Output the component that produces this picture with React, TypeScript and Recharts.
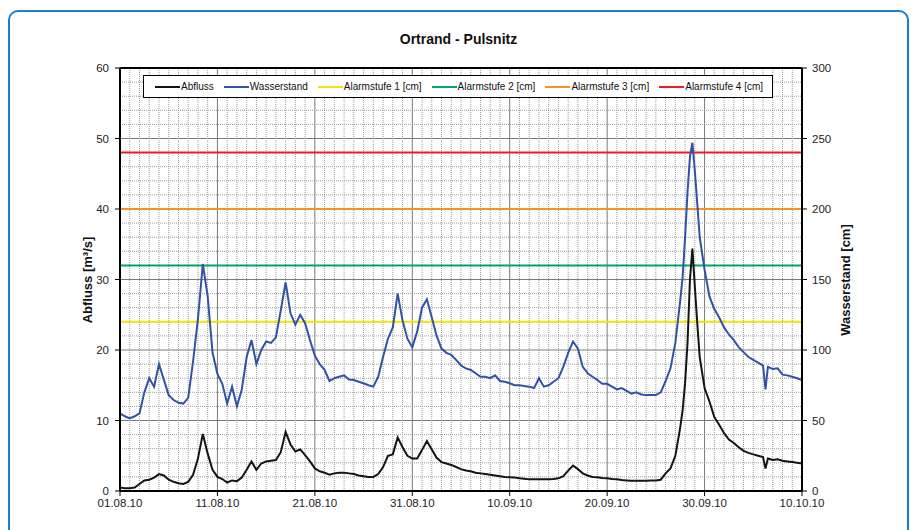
import React from 'react';
import {
  LineChart,
  Line,
  XAxis,
  YAxis,
  CartesianGrid,
  ReferenceLine,
} from 'recharts';

// Tage seit 01.08.10 (Messzeitpunkte)
const days = [
  0, 0.5, 1, 1.5, 2, 2.5, 3, 3.5, 4, 4.5, 5, 5.5, 6, 6.5, 7, 7.5, 8, 8.5, 9, 9.5,
  10, 10.5, 11, 11.5, 12, 12.5, 13, 13.5, 14, 14.5, 15, 15.5, 16, 16.5, 17, 17.5, 18, 18.5, 19, 19.5,
  20, 20.5, 21, 21.5, 22, 22.5, 23, 23.5, 24, 24.5, 25, 25.5, 26, 26.5, 27, 27.5, 28, 28.5, 29, 29.5,
  30, 30.5, 31, 31.5, 32, 32.5, 33, 33.5, 34, 34.5, 35, 35.5, 36, 36.5, 37, 37.5, 38, 38.5, 39, 39.5,
  40, 40.5, 41, 41.5, 42, 42.5, 43, 43.5, 44, 44.5, 45, 45.5, 46, 46.5, 47, 47.5, 48, 48.5, 49, 49.5,
  50, 50.5, 51, 51.5, 52, 52.5, 53, 53.5, 54, 54.5, 55, 55.5, 56, 56.5, 57, 57.5, 57.75, 58, 58.25, 58.5, 58.75, 59, 59.25, 59.5,
  60, 60.5, 61, 61.5, 62, 62.5, 63, 63.5, 64, 64.5, 65, 65.5, 66, 66.25, 66.5, 67, 67.5, 68, 68.5, 69, 69.5, 70,
];

// Abfluss [m³/s]
const abfluss = [
  0.5, 0.4, 0.4, 0.5, 1.0, 1.5, 1.6, 1.9, 2.4, 2.2, 1.6, 1.3, 1.1, 1.0, 1.3, 2.3, 4.6, 8.1, 5.3, 3.0,
  2.0, 1.7, 1.2, 1.5, 1.4, 1.9, 3.0, 4.2, 3.0, 3.9, 4.2, 4.3, 4.4, 5.5, 8.4, 6.6, 5.6, 5.9, 5.1, 4.2,
  3.2, 2.8, 2.6, 2.3, 2.5, 2.6, 2.6, 2.5, 2.4, 2.2, 2.1, 2.0, 2.0, 2.4, 3.4, 5.0, 5.2, 7.6, 6.2, 5.0,
  4.6, 4.6, 5.8, 7.1, 5.9, 4.7, 4.1, 3.9, 3.7, 3.4, 3.1, 2.9, 2.8, 2.6, 2.5, 2.4, 2.3, 2.2, 2.1, 2.0,
  1.95, 1.9, 1.8, 1.75, 1.65, 1.65, 1.65, 1.65, 1.65, 1.7, 1.8, 2.1, 2.9, 3.6, 3.1, 2.5, 2.2, 2.0, 1.95, 1.85,
  1.8, 1.7, 1.65, 1.55, 1.5, 1.45, 1.45, 1.45, 1.45, 1.5, 1.5, 1.6, 2.5, 3.2, 5.0, 9.0, 11.5, 15.3, 21, 30, 34.4, 29, 23.8, 19,
  14.6, 12.7, 10.5, 9.4, 8.2, 7.3, 6.8, 6.2, 5.7, 5.4, 5.2, 5.0, 4.8, 3.2, 4.6, 4.4, 4.5, 4.3, 4.2, 4.1, 4.0, 3.9,
];

// Wasserstand [cm]
const wasserstand = [
  55, 53, 51.5, 53, 55, 70, 80, 74, 90, 79, 68, 64.5, 62.6, 62, 66, 92, 122, 161, 138, 98,
  83, 76, 62, 74, 60, 72, 95, 107, 90, 100, 106, 105, 109, 128, 148, 126, 118, 125, 119, 107,
  96, 90, 86, 78, 80, 81, 82, 79, 78.7, 77.5, 76.4, 75, 74, 81, 95, 108, 116, 140, 121, 108,
  102, 113, 130, 136, 123, 110, 101, 98, 96.5, 93, 89, 87, 85.8, 83.5, 81, 81, 80, 82, 78, 77.5,
  76.4, 75, 75, 74.5, 74, 73, 80, 74, 75, 77.5, 80, 88, 98, 106, 101, 88, 83.5, 81, 78.7, 76,
  76, 74, 72, 73, 71, 69, 70, 68.5, 68, 68, 68, 70, 78, 87, 105, 135, 152, 180, 212, 237, 247, 227, 204, 180,
  157, 138, 129, 123, 116, 111, 107, 102, 98.5, 95, 93, 91, 89, 72, 88, 86.5, 87, 82.5, 82, 81, 80, 78.7,
];

const dateTicks = [0, 10, 20, 30, 40, 50, 60, 70];
const dateLabels = ['01.08.10', '11.08.10', '21.08.10', '31.08.10', '10.09.10', '20.09.10', '30.09.10', '10.10.10'];
const abflussTicks = [0, 10, 20, 30, 40, 50, 60];
const wasserTicks = [0, 50, 100, 150, 200, 250, 300];

const alarmNames = ['Alarmstufe 1 [cm]', 'Alarmstufe 2 [cm]', 'Alarmstufe 3 [cm]', 'Alarmstufe 4 [cm]'];
const alarmLevels = [120, 160, 200, 240];
const alarmColors = ['#f2e600', '#00a66e', '#f7941d', '#ec1c24'];

const BLUE = '#3252a3';
const BLACK = '#141414';
const FONT = '"Liberation Sans", Arial, sans-serif';

// Nebengitter: jeder Tag bzw. alle 2 m³/s
const minorDays: number[] = [];
for (let d = 1; d < 70; d++) if (d % 10 !== 0) minorDays.push(d);
const minorLevels: number[] = [];
for (let v = 2; v < 60; v += 2) if (v % 10 !== 0) minorLevels.push(v);

const data = days.map((d, i) => ({ day: d, abfluss: abfluss[i], wasserstand: wasserstand[i] }));

const legendItems = [
  { name: 'Abfluss', color: BLACK },
  { name: 'Wasserstand', color: BLUE },
  ...alarmNames.map((n, i) => ({ name: n, color: alarmColors[i] })),
];

export default function App() {
  const tickStyle = { fontSize: 11.5, fill: '#222', fontFamily: FONT };

  return (
    <div style={{ position: 'absolute', left: 0, top: 0, width: 917, height: 530, overflow: 'hidden', background: '#fff', fontFamily: FONT }}>
      {/* blauer Rahmen */}
      <div
        style={{
          position: 'absolute',
          left: 8,
          top: 10,
          width: 901,
          height: 580,
          boxSizing: 'border-box',
          border: '2.5px solid #1b7fc4',
          borderRadius: 10,
        }}
      />

      <LineChart
        width={917}
        height={530}
        data={data}
        margin={{ top: 68, right: 75, bottom: 9, left: 80 }}
        style={{ position: 'absolute', left: 0, top: 0 }}
      >
        {minorDays.map((d) => (
          <ReferenceLine key={'vx' + d} x={d} yAxisId="left" stroke="#9c9c9c" strokeDasharray="1 1" strokeWidth={1} />
        ))}
        {minorLevels.map((v) => (
          <ReferenceLine key={'hy' + v} y={v} yAxisId="left" stroke="#9c9c9c" strokeDasharray="1 1" strokeWidth={1} />
        ))}
        <CartesianGrid yAxisId="left" stroke="#7a7a7a" strokeWidth={1} />

        <XAxis
          dataKey="day"
          type="number"
          domain={[0, 70]}
          ticks={dateTicks}
          tickFormatter={(v: number) => dateLabels[dateTicks.indexOf(v)] ?? ''}
          tick={tickStyle}
          tickSize={5}
          tickMargin={3}
          height={30}
          axisLine={{ stroke: '#000', strokeWidth: 2 }}
          tickLine={{ stroke: '#000' }}
          allowDataOverflow
        />
        <YAxis
          yAxisId="left"
          domain={[0, 60]}
          ticks={abflussTicks}
          tick={tickStyle}
          tickSize={5}
          tickMargin={6}
          width={40}
          axisLine={{ stroke: '#000', strokeWidth: 2 }}
          tickLine={{ stroke: '#000' }}
          allowDataOverflow
        />
        <YAxis
          yAxisId="right"
          orientation="right"
          domain={[0, 300]}
          ticks={wasserTicks}
          tick={tickStyle}
          tickSize={5}
          tickMargin={5}
          width={40}
          axisLine={{ stroke: '#000', strokeWidth: 2 }}
          tickLine={{ stroke: '#000' }}
          allowDataOverflow
        />
        <ReferenceLine y={60} yAxisId="left" stroke="#000" strokeWidth={2} />

        {alarmLevels.map((lvl, i) => (
          <ReferenceLine key={'al' + i} y={lvl} yAxisId="right" stroke={alarmColors[i]} strokeWidth={2} />
        ))}

        <Line
          yAxisId="left"
          type="linear"
          dataKey="abfluss"
          stroke={BLACK}
          strokeWidth={2}
          dot={false}
          isAnimationActive={false}
        />
        <Line
          yAxisId="right"
          type="linear"
          dataKey="wasserstand"
          stroke={BLUE}
          strokeWidth={2}
          dot={false}
          isAnimationActive={false}
        />
      </LineChart>

      {/* Titel */}
      <div
        style={{
          position: 'absolute',
          left: 0,
          top: 31,
          width: 917,
          textAlign: 'center',
          fontSize: 14,
          fontWeight: 'bold',
          color: '#111',
          lineHeight: '16px',
        }}
      >
        Ortrand - Pulsnitz
      </div>

      {/* Achsentitel */}
      <div
        style={{
          position: 'absolute',
          left: 87,
          top: 280,
          transform: 'translate(-50%, -50%) rotate(-90deg)',
          whiteSpace: 'nowrap',
          fontSize: 13,
          fontWeight: 'bold',
          color: '#111',
        }}
      >
        Abfluss [m³/s]
      </div>
      <div
        style={{
          position: 'absolute',
          left: 845,
          top: 280,
          transform: 'translate(-50%, -50%) rotate(-90deg)',
          whiteSpace: 'nowrap',
          fontSize: 13,
          fontWeight: 'bold',
          color: '#111',
        }}
      >
        Wasserstand [cm]
      </div>

      {/* Legende */}
      <div
        style={{
          position: 'absolute',
          left: 143,
          top: 75,
          width: 630,
          height: 23,
          boxSizing: 'border-box',
          border: '1px solid #000',
          background: '#fff',
          display: 'flex',
          alignItems: 'center',
          paddingLeft: 11,
          gap: 10,
          fontSize: 10,
          color: '#111',
        }}
      >
        {legendItems.map((it) => (
          <div key={it.name} style={{ display: 'flex', alignItems: 'center', whiteSpace: 'nowrap' }}>
            <div style={{ width: 25, height: 2, background: it.color, marginRight: 1 }} />
            <span>{it.name}</span>
          </div>
        ))}
      </div>
    </div>
  );
}
